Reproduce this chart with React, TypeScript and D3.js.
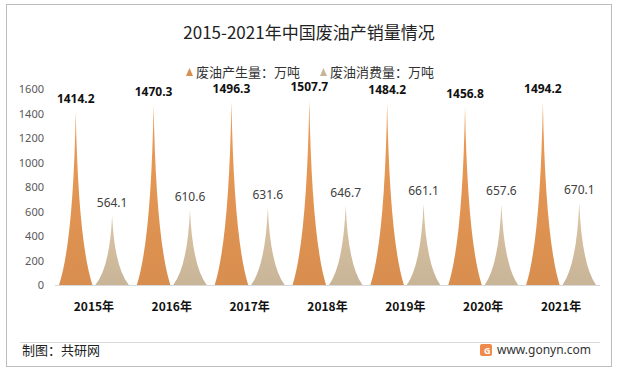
import React from "react";
import * as d3 from "d3";

const years = ["2015年", "2016年", "2017年", "2018年", "2019年", "2020年", "2021年"];
const production = [1414.2, 1470.3, 1496.3, 1507.7, 1484.2, 1456.8, 1494.2];
const consumption = [564.1, 610.6, 631.6, 646.7, 661.1, 657.6, 670.1];
const seriesNames = ["废油产生量：万吨", "废油消费量：万吨"];
const yTicks = [0, 200, 400, 600, 800, 1000, 1200, 1400, 1600];

const W = 618, H = 371;
const margin = { left: 55, right: 18, top: 89, bottom: 86 };
const colors = ["#D88E4F", "#C8B497"];
const cjk = "'Noto Sans CJK SC', 'Noto Sans', sans-serif";
const num = "'Noto Sans', 'Liberation Sans', sans-serif";

// concave-sided peak, like the pictorial triangle in the original
function spike(cx: number, half: number, base: number, top: number) {
  const h = base - top;
  const p = d3.path();
  p.moveTo(cx - half, base);
  p.quadraticCurveTo(cx - half * 0.15, base - h * 0.25, cx, top);
  p.quadraticCurveTo(cx + half * 0.15, base - h * 0.25, cx + half, base);
  p.closePath();
  return p.toString();
}

export default function App() {
  const x0 = d3.scaleBand().domain(years).range([margin.left, W - margin.right]).padding(0);
  const bw = x0.bandwidth();
  const x1 = d3.scaleBand().domain(["p", "c"]).range([4, bw - 4]).paddingInner(0.08);
  const y = d3.scaleLinear().domain([0, 1600]).range([H - margin.bottom, margin.top]);
  const half = x1.bandwidth() / 2;
  const base = y(0);

  return (
    <svg width={W} height={H} style={{ position: "absolute", left: 0, top: 0 }}>
      <defs>
        {colors.map((c, i) => (
          <linearGradient key={i} id={`g${i}`} x1="0" y1="0" x2="0" y2="1">
            <stop offset="0%" stopColor={d3.color(c)!.brighter(0.25).toString()} />
            <stop offset="100%" stopColor={c} />
          </linearGradient>
        ))}
      </defs>
      <rect x={0} y={0} width={W} height={H} fill="#fff" />
      <rect x={6.5} y={4.5} width={605} height={362} fill="none" stroke="#bdbdbd" strokeWidth={1} />
      <text x={309} y={39} textAnchor="middle" fontSize={17} fontFamily={cjk} fill="#222">
        2015-2021年中国废油产销量情况
      </text>
      {/* legend */}
      {seriesNames.map((s, i) => {
        const lx = i === 0 ? 186 : 320;
        return (
          <g key={s} transform={`translate(${lx},72)`}>
            <path d="M0,4 L3.5,-4 L7,4 Z" fill={colors[i]} />
            <text x={10} y={4.5} fontSize={13} fontFamily={cjk} fill="#333">{s}</text>
          </g>
        );
      })}
      {/* y axis labels */}
      {yTicks.map((t) => (
        <text key={t} x={44} y={y(t) + 4} textAnchor="end" fontSize={11} fontFamily={num} fill="#595959">
          {t}
        </text>
      ))}
      <line x1={margin.left} x2={W - margin.right} y1={base + 0.5} y2={base + 0.5} stroke="#d9d9d9" />
      {years.map((yr, i) => {
        const bx = x0(yr)!;
        const cp = bx + x1("p")! + half;
        const cc = bx + x1("c")! + half;
        return (
          <g key={yr}>
            <path d={spike(cp, half, base, y(production[i]))} fill="url(#g0)" />
            <path d={spike(cc, half, base, y(consumption[i]))} fill="url(#g1)" />
            <text x={cp} y={y(production[i]) - 9} textAnchor="middle" fontSize={12} fontWeight="bold" fontFamily={num} fill="#111">
              {production[i]}
            </text>
            <text x={cc} y={y(consumption[i]) - 9} textAnchor="middle" fontSize={12} fontFamily={num} fill="#404040">
              {consumption[i]}
            </text>
            <text x={bx + bw / 2} y={311} textAnchor="middle" fontSize={12} fontWeight="bold" fontFamily={cjk} fill="#111">
              {yr}
            </text>
          </g>
        );
      })}
      <line x1={20} x2={600} y1={342.5} y2={342.5} stroke="#d9d9d9" />
      <text x={22} y={355} fontSize={13} fontFamily={cjk} fill="#222">制图：共研网</text>
      <rect x={480} y={344} width={12} height={12} rx={2} fill="#f08a4b" />
      <text x={484} y={354} fontSize={9} fontWeight="bold" fontFamily={num} fill="#fff">G</text>
      <text x={497} y={354} fontSize={12} fontFamily={num} fill="#333">www.gonyn.com</text>
    </svg>
  );
}
